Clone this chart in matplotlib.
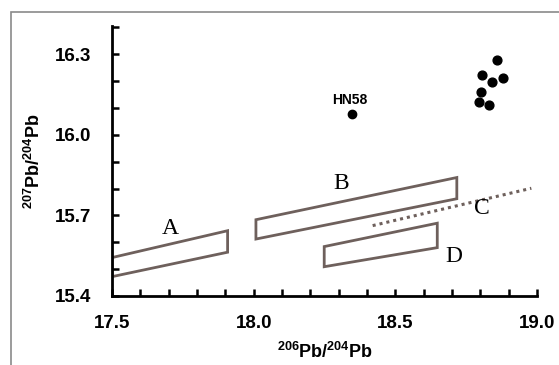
import matplotlib.pyplot as plt
from matplotlib.patches import Polygon, Rectangle
from matplotlib.ticker import MultipleLocator

plt.rcParams['font.family'] = ['Liberation Sans', 'DejaVu Sans']
plt.rcParams['mathtext.fontset'] = 'custom'
plt.rcParams['mathtext.rm'] = 'Liberation Sans:bold'
plt.rcParams['mathtext.bf'] = 'Liberation Sans:bold'

# field boxes (206Pb/204Pb, 207Pb/204Pb corners)
box_a = [(17.50, 15.543), (17.908, 15.643), (17.908, 15.563), (17.50, 15.472)]
box_b = [(18.008, 15.684), (18.717, 15.841), (18.717, 15.762), (18.008, 15.612)]
box_d = [(18.249, 15.584), (18.648, 15.671), (18.648, 15.580), (18.249, 15.509)]
line_c_x = [18.42, 18.98]
line_c_y = [15.662, 15.801]

# samples
hn58_x = [18.348]
hn58_y = [16.078]
grp_x = [18.858, 18.805, 18.842, 18.879, 18.801, 18.797, 18.832]
grp_y = [16.278, 16.221, 16.196, 16.211, 16.160, 16.121, 16.112]

edge = '#6e605c'

fig = plt.figure(figsize=(5.59, 3.65), dpi=100)
fig.patches.append(Rectangle((11 / 559, -0.1), 1.2, 1 - 12 / 365 + 0.1,
                             transform=fig.transFigure, fill=False,
                             edgecolor='#8a8a8a', linewidth=1.2))
ax = fig.add_axes([112 / 559, 1 - 296 / 365, 425 / 559, 270 / 365])

for pts in [box_a, box_b, box_d]:
    ax.add_patch(Polygon(pts, closed=True, fill=False, edgecolor=edge, linewidth=2))
ax.plot(line_c_x, line_c_y, linestyle=(0, (1, 1.3)), color=edge, linewidth=2.2)

ax.scatter(hn58_x, hn58_y, s=36, color='black', zorder=3)
ax.scatter(grp_x, grp_y, s=40, color='black', zorder=3)
ax.text(18.34, 16.128, 'HN58', fontsize=10, fontweight='bold', ha='center', va='center')

serif = dict(family='Liberation Serif', fontsize=17, ha='center', va='center')
ax.text(17.705, 15.65, 'A', **serif)
ax.text(18.31, 15.82, 'B', **serif)
ax.text(18.805, 15.724, 'C', **serif)
ax.text(18.705, 15.547, 'D', **serif)

ax.set_xlim(17.5, 19.0)
ax.set_ylim(15.4, 16.405)
ax.xaxis.set_minor_locator(MultipleLocator(0.1))
ax.yaxis.set_minor_locator(MultipleLocator(0.1))
ax.set_xticks([17.5, 18.0, 18.5, 19.0])
ax.set_yticks([15.4, 15.7, 16.0, 16.3])
ax.tick_params(which='both', direction='in', length=5, width=1.8)
ax.tick_params(axis='x', pad=14)
ax.tick_params(axis='y', pad=15)
for lab in ax.get_xticklabels() + ax.get_yticklabels():
    lab.set_fontsize(13.5)
    lab.set_fontweight('bold')
for s in ['top', 'right']:
    ax.spines[s].set_visible(False)
for s in ['left', 'bottom']:
    ax.spines[s].set_linewidth(2)

ax.set_xlabel('$^{206}$Pb/$^{204}$Pb', fontsize=13, fontweight='bold', labelpad=7)
ax.set_ylabel('$^{207}$Pb/$^{204}$Pb', fontsize=13, fontweight='bold', labelpad=8)

fig.savefig('out.png', dpi=100)
